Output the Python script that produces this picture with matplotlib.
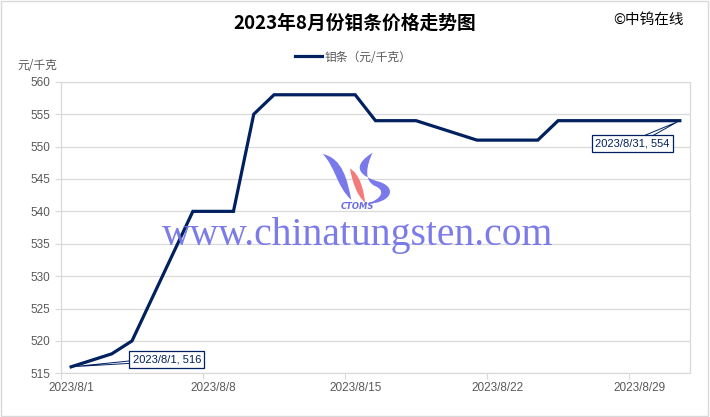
import matplotlib
matplotlib.use("Agg")
import matplotlib.pyplot as plt
import matplotlib.dates as mdates
from matplotlib.path import Path
from matplotlib.patches import PathPatch
import pandas as pd

plt.rcParams['font.family'] = ['Noto Sans CJK SC', 'DejaVu Sans']

# ---- data ----
dates = ["2023-08-01", "2023-08-02", "2023-08-03", "2023-08-04", "2023-08-07",
         "2023-08-08", "2023-08-09", "2023-08-10", "2023-08-11", "2023-08-14",
         "2023-08-15", "2023-08-16", "2023-08-17", "2023-08-18", "2023-08-21",
         "2023-08-22", "2023-08-23", "2023-08-24", "2023-08-25", "2023-08-28",
         "2023-08-29", "2023-08-30", "2023-08-31"]
prices = [516, 517, 518, 520, 540, 540, 540, 555, 558, 558, 558, 554, 554,
          554, 551, 551, 551, 551, 554, 554, 554, 554, 554]
tick_dates = ["2023-08-01", "2023-08-08", "2023-08-15", "2023-08-22", "2023-08-29"]
tick_labels = ["2023/8/1", "2023/8/8", "2023/8/15", "2023/8/22", "2023/8/29"]
yticks = [515, 520, 525, 530, 535, 540, 545, 550, 555, 560]

title = "2023年8月份钼条价格走势图"
series_name = "钼条（元/千克）"
unit = "元/千克"

NAVY = "#002060"
GRID = "#d9d9d9"
TXT = "#595959"

x = pd.to_datetime(dates)
half = pd.Timedelta(hours=12)

fig = plt.figure(figsize=(7.1, 4.17), dpi=100)
ax = fig.add_axes([0.0859, 0.1048, 0.8859, 0.699])

line, = ax.plot(x, prices, color=NAVY, lw=2.3, solid_joinstyle="miter",
                label=series_name, zorder=3)

ax.set_xlim(x[0] - half, x[-1] + half)
ax.set_ylim(515, 560)
ax.set_yticks(yticks)

tk = pd.to_datetime(tick_dates)
ax.set_xticks(tk)
ax.set_xticklabels(tick_labels, fontfamily="Liberation Sans", fontsize=8.5, color=TXT)
ax.set_xticks(tk - half, minor=True)
ax.tick_params(axis="x", which="major", length=0, pad=6)
ax.tick_params(axis="x", which="minor", length=4, color=GRID, width=0.8)
ax.tick_params(axis="y", length=4, color=GRID, width=0.8, pad=4,
               labelsize=8.5, labelcolor=TXT)
for lab in ax.get_yticklabels():
    lab.set_fontfamily("Liberation Sans")

ax.grid(axis="y", color=GRID, lw=0.9)
ax.set_axisbelow(True)
for s in ax.spines.values():
    s.set_color(GRID)
    s.set_linewidth(0.9)

# callouts
bbox = dict(boxstyle="square,pad=0.3", fc="white", ec=NAVY, lw=0.9)
ax.annotate(f"2023/8/1, {prices[0]}", xy=(x[0], prices[0]), xytext=(69, 5.5),
            textcoords="offset points", ha="center", va="center", fontsize=8,
            fontfamily="Liberation Sans", color=NAVY, bbox=bbox,
            arrowprops=dict(arrowstyle="wedge,tail_width=0.35,shrink_factor=0.5",
                            fc="white", ec=NAVY, lw=0.7, patchA=None))
ax.annotate(f"2023/8/31, {prices[-1]}", xy=(x[-1], prices[-1]), xytext=(-34, -16.5),
            textcoords="offset points", ha="center", va="center", fontsize=8,
            fontfamily="Liberation Sans", color=NAVY, bbox=bbox,
            arrowprops=dict(arrowstyle="wedge,tail_width=0.5,shrink_factor=0.5",
                            fc="white", ec=NAVY, lw=0.7, patchA=None))

# titles / labels
fig.text(0.5, 0.944, title, ha="center", va="center", fontsize=13.5,
         fontweight="bold", color="black")
fig.text(0.963, 0.953, "©中钨在线", ha="right", va="center", fontsize=10.5, color="black")
fig.text(0.025, 0.844, unit, ha="left", va="center", fontsize=8.5, color=TXT)
fig.legend(handles=[line], loc="center", bbox_to_anchor=(0.497, 0.863), frameon=False,
           fontsize=8.5, handlelength=2.3, handletextpad=0.2, labelcolor=TXT)


# watermark (logo + site name)
def px(pts):
    return [(px_ / 710.0, 1 - py_ / 417.0) for px_, py_ in pts]


def zoomed(pts):
    return [(a / 3.0 + 150, b / 3.0 + 140) for a, b in pts]


C4 = [Path.MOVETO, Path.CURVE4, Path.CURVE4, Path.CURVE4,
      Path.CURVE4, Path.CURVE4, Path.CURVE4]
left_blue = zoomed([(518, 42), (578, 55), (592, 120), (604, 180),
                    (560, 140), (556, 80), (518, 42)])
red = zoomed([(600, 86), (628, 100), (642, 150), (645, 188),
              (620, 166), (606, 122), (600, 86)])
right_blue = zoomed([(668, 38), (600, 80), (630, 110), (690, 126),
                     (745, 146), (720, 190), (650, 192),
                     (700, 175), (705, 150), (675, 138),
                     (640, 122), (650, 75), (668, 38)])
for pts, col in [(left_blue, "#6b6be8"), (red, "#f26d6d")]:
    fig.patches.append(PathPatch(Path(px(pts), C4), transform=fig.transFigure,
                                 fc=col, ec="none", alpha=0.9))
fig.patches.append(PathPatch(Path(px(right_blue), [Path.MOVETO] + [Path.CURVE4] * 12),
                             transform=fig.transFigure, fc="#6b6be8", ec="none",
                             alpha=0.9))
fig.text(357 / 710, 1 - 206 / 417, "CTOMS", ha="center", va="center", fontsize=6,
         fontstyle="italic", fontweight="bold", color="#6b6be8",
         fontfamily="DejaVu Sans")
fig.text(358 / 710, 1 - 236 / 417, "www.chinatungsten.com", ha="center", va="center",
         fontsize=28.5, fontfamily="Liberation Serif", color="#6e6ee6", alpha=0.9)

# outer frame
fig.patches.append(plt.Rectangle((0.002, 0.003), 0.995, 0.994, transform=fig.transFigure,
                                 fill=False, ec=GRID, lw=1))

fig.savefig("out.png", dpi=100)
